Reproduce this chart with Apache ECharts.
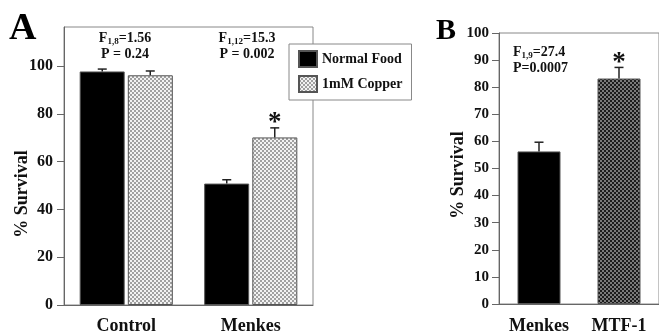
<!DOCTYPE html>
<html><head><meta charset="utf-8">
<script src="https://cdn.jsdelivr.net/npm/echarts@6/dist/echarts.min.js"></script>
<style>html,body{margin:0;padding:0;background:#fff}#c{width:659px;height:335px}</style>
</head><body><div id="c"></div>
<script>
// ---- Data ----
const categoriesA = ['Control', 'Menkes'];
const seriesNamesA = ['Normal Food', '1mM Copper'];
const normalFood = [97.7, 50.8];
const normalFoodErr = [1.0, 1.6];
const copper = [96.1, 70.1];
const copperErr = [1.8, 4.0];
const copperSig = [false, true];
const normalSig = [false, false];
const ticksA = [0, 20, 40, 60, 80, 100];

const categoriesB = ['Menkes', 'MTF-1'];
const survivalB = [56.3, 83.2];
const survivalBErr = [3.4, 4.1];
const sigB = [false, true];

// ---- Styles ----
const SERIF = "'Liberation Serif','Times New Roman',serif";
function makePattern(c1, c2, cell) {
  const cv = document.createElement('canvas');
  cv.width = cv.height = cell * 2;
  const ctx = cv.getContext('2d');
  ctx.fillStyle = c1; ctx.fillRect(0, 0, cell * 2, cell * 2);
  ctx.fillStyle = c2; ctx.fillRect(0, 0, cell, cell); ctx.fillRect(cell, cell, cell, cell);
  return { image: cv, repeat: 'repeat' };
}
const lightPat = makePattern('#f2f2f2', '#a0a0a0', 2);
const darkPat = makePattern('#1c1c1c', '#7a7a7a', 2);

function errSeries(name, xi, yi, vals, errs, sigs, offset) {
  return {
    type: 'custom', name: name, xAxisIndex: xi, yAxisIndex: yi, z: 5,
    silent: true, legendHoverLink: false,
    data: vals.map((v, i) => [i, v, errs[i], sigs[i] ? 1 : 0]),
    renderItem: function (params, api) {
      const i = api.value(0), v = api.value(1), e = api.value(2), s = api.value(3);
      const p0 = api.coord([i, v]);
      const p1 = api.coord([i, v + e]);
      const x = p0[0] + offset;
      const children = [
        { type: 'line', shape: { x1: x, y1: p0[1], x2: x, y2: p1[1] }, style: { stroke: '#222', lineWidth: 1.5 } },
        { type: 'line', shape: { x1: x - 4.5, y1: p1[1], x2: x + 4.5, y2: p1[1] }, style: { stroke: '#222', lineWidth: 1.5 } }
      ];
      if (s) {
        children.push({ type: 'text', style: { text: '*', x: x, y: p1[1] + 9, align: 'center', verticalAlign: 'bottom', font: 'bold 27px ' + SERIF, fill: '#111' } });
      }
      return { type: 'group', children: children };
    }
  };
}

const chart = echarts.init(document.getElementById('c'), null, { renderer: 'canvas' });
const tickLabelA = { fontFamily: SERIF, fontWeight: 'bold', fontSize: 16, color: '#111', margin: 11 };
const richAnn = {
  a: { fontFamily: SERIF, fontWeight: 'bold', fontSize: 14, fill: '#111', lineHeight: 16 },
  s: { fontFamily: SERIF, fontWeight: 'bold', fontSize: 9, fill: '#111', verticalAlign: 'bottom', lineHeight: 16, padding: [6, 0, 0, 0] }
};

const option = {
  animation: false,
  backgroundColor: '#fff',
  legend: {
    data: seriesNamesA,
    orient: 'vertical', left: 289, top: 44, icon: 'rect',
    padding: [6, 9, 7, 9], itemGap: 7, itemWidth: 18, itemHeight: 16,
    backgroundColor: '#fff', borderColor: '#888', borderWidth: 1, borderRadius: 0,
    textStyle: { fontFamily: SERIF, fontWeight: 'bold', fontSize: 14, color: '#111' },
    z: 10
  },
  grid: [
    { left: 64, top: 27, width: 249, height: 282, show: true, borderColor: '#888', borderWidth: 1, backgroundColor: 'transparent' },
    { left: 499, top: 33, width: 164, height: 274, show: true, borderColor: '#888', borderWidth: 1, backgroundColor: 'transparent' }
  ],
  xAxis: [
    { type: 'category', gridIndex: 0, data: categoriesA,
      axisLine: { lineStyle: { color: '#666', width: 1 } },
      axisTick: { length: 5, lineStyle: { color: '#666' } },
      axisLabel: { fontFamily: SERIF, fontWeight: 'bold', fontSize: 18, color: '#111', margin: 12 } },
    { type: 'category', gridIndex: 1, data: categoriesB,
      axisLine: { lineStyle: { color: '#666', width: 1 } },
      axisTick: { length: 5, lineStyle: { color: '#666' } },
      axisLabel: { fontFamily: SERIF, fontWeight: 'bold', fontSize: 18, color: '#111', margin: 13 } }
  ],
  yAxis: [
    { type: 'value', gridIndex: 0, min: 0, max: 116.3, interval: 20,
      axisLine: { show: true, lineStyle: { color: '#666' } },
      axisTick: { show: true, length: 7, lineStyle: { color: '#666' }, customValues: ticksA },
      axisLabel: Object.assign({ customValues: ticksA, formatter: v => (v % 20 === 0 ? String(v) : '') }, tickLabelA),
      splitLine: { show: false } },
    { type: 'value', gridIndex: 1, min: 0, max: 100, interval: 10,
      axisLine: { show: true, lineStyle: { color: '#666' } },
      axisTick: { show: true, length: 7, lineStyle: { color: '#666' } },
      axisLabel: { fontFamily: SERIF, fontWeight: 'bold', fontSize: 15, color: '#111', margin: 10 },
      splitLine: { show: false } }
  ],
  series: [
    { type: 'bar', name: seriesNamesA[0], xAxisIndex: 0, yAxisIndex: 0, data: normalFood,
      barWidth: 45, barGap: '7%',
      itemStyle: { color: '#000', borderColor: '#555', borderWidth: 1 } },
    { type: 'bar', name: seriesNamesA[1], xAxisIndex: 0, yAxisIndex: 0, data: copper,
      barWidth: 45, barGap: '7%',
      itemStyle: { color: lightPat, borderColor: '#555', borderWidth: 1 } },
    errSeries('errN', 0, 0, normalFood, normalFoodErr, normalSig, -24),
    errSeries('errC', 0, 0, copper, copperErr, copperSig, 24),
    { type: 'bar', name: 'B', xAxisIndex: 1, yAxisIndex: 1,
      data: [
        { value: survivalB[0], itemStyle: { color: '#000' } },
        { value: survivalB[1], itemStyle: { color: darkPat } }
      ],
      barWidth: 43, itemStyle: { borderColor: '#555', borderWidth: 1 } },
    errSeries('errB', 1, 1, survivalB, survivalBErr, sigB, 0)
  ],
  graphic: [
    { type: 'text', left: 9, top: 10, style: { text: 'A', font: 'bold 38px ' + SERIF, fill: '#000' } },
    { type: 'text', left: 436, top: 16, style: { text: 'B', font: 'bold 30px ' + SERIF, fill: '#000' } },
    { type: 'text', x: 22, y: 194, rotation: Math.PI / 2, style: { text: '% Survival', align: 'center', verticalAlign: 'middle', font: 'bold 18px ' + SERIF, fill: '#111' } },
    { type: 'text', x: 458, y: 175, rotation: Math.PI / 2, style: { text: '% Survival', align: 'center', verticalAlign: 'middle', font: 'bold 18px ' + SERIF, fill: '#111' } },
    { type: 'text', x: 125, y: 46, style: { text: '{a|F}{s|1,8}{a|=1.56}\n{a|P = 0.24}', align: 'center', verticalAlign: 'middle', rich: richAnn } },
    { type: 'text', x: 247, y: 46, style: { text: '{a|F}{s|1,12}{a|=15.3}\n{a|P = 0.002}', align: 'center', verticalAlign: 'middle', rich: richAnn } },
    { type: 'text', x: 513, y: 60, style: { text: '{a|F}{s|1,9}{a|=27.4}\n{a|P=0.0007}', align: 'left', verticalAlign: 'middle', rich: richAnn } }
  ]
};
chart.setOption(option);
</script>
</body></html>
